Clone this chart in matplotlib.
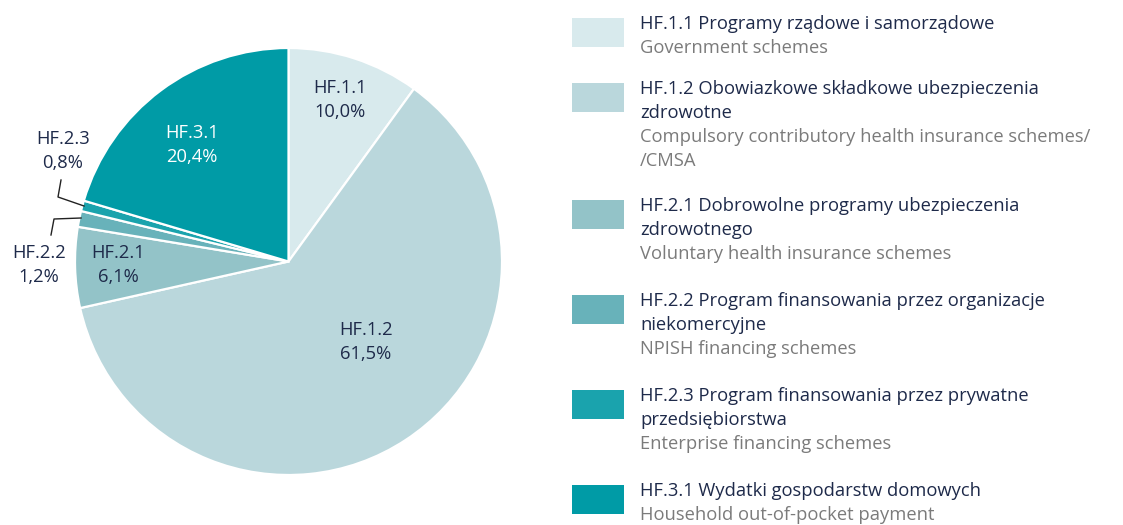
import matplotlib
matplotlib.use("Agg")
import matplotlib.pyplot as plt
from matplotlib.patches import Rectangle
from matplotlib.lines import Line2D

plt.rcParams['font.family'] = ['Open Sans', 'DejaVu Sans']

codes = ["HF.1.1", "HF.1.2", "HF.2.1", "HF.2.2", "HF.2.3", "HF.3.1"]
values = [10.0, 61.5, 6.1, 1.2, 0.8, 20.4]
value_labels = ["10,0%", "61,5%", "6,1%", "1,2%", "0,8%", "20,4%"]
pie_codes = ["HF.1.1", "HF.1.2", "HF.2.1", "HF.2.2", "HF.2.3", "HF.3.1"]
colors = ["#d8eaed", "#bad7dc", "#93c3c8", "#68b2ba", "#1aa3ad", "#009ba6"]
legend_pl = [
    ["HF.1.1 Programy rządowe i samorządowe"],
    ["HF.1.2 Obowiazkowe składkowe ubezpieczenia", "zdrowotne"],
    ["HF.2.1 Dobrowolne programy ubezpieczenia", "zdrowotnego"],
    ["HF.2.2 Program finansowania przez organizacje", "niekomercyjne"],
    ["HF.2.3 Program finansowania przez prywatne", "przedsiębiorstwa"],
    ["HF.3.1 Wydatki gospodarstw domowych"],
]
legend_en = [
    ["Government schemes"],
    ["Compulsory contributory health insurance schemes/", "/CMSA"],
    ["Voluntary health insurance schemes"],
    ["NPISH financing schemes"],
    ["Enterprise financing schemes"],
    ["Household out-of-pocket payment"],
]

W, H = 1123, 525
fig = plt.figure(figsize=(W / 100, H / 100), dpi=100)
fig.patch.set_facecolor("white")

def fx(px):
    return px / W

def fy(py):
    return 1 - py / H

cx, cy, R = 288.5, 261.5, 213.5
ax = fig.add_axes([fx(cx - R), fy(cy + R), 2 * R / W, 2 * R / H])
ax.pie(values, colors=colors, startangle=90, counterclock=False,
       wedgeprops=dict(edgecolor="white", linewidth=1.6), radius=1.0)
ax.set_xlim(-1, 1)
ax.set_ylim(-1, 1)
ax.set_aspect("equal")
ax.axis("off")

navy = "#1e2a4a"
gray = "#7b7b7b"
fs = 13.2

# pie labels (pixel positions of label centers)
label_pos = {
    "HF.1.1": (340, 100, navy),
    "HF.1.2": (366, 342, navy),
    "HF.2.1": (118, 265, navy),
    "HF.2.2": (39, 265, navy),
    "HF.2.3": (63, 151, navy),
    "HF.3.1": (192, 145, "white"),
}
for code, val in zip(pie_codes, value_labels):
    px, py, col = label_pos[code]
    fig.text(fx(px), fy(py - 12), code, ha="center", va="center",
             color=col, fontsize=fs)
    fig.text(fx(px), fy(py + 12), val, ha="center", va="center",
             color=col, fontsize=fs)

# leader lines
for pts in ([(61, 180), (58, 197), (84, 206)],
            [(51, 235), (54, 219), (81, 218)]):
    xs = [fx(p[0]) for p in pts]
    ys = [fy(p[1]) for p in pts]
    fig.add_artist(Line2D(xs, ys, color="#222222", linewidth=1.0))

# legend
sw_x0, sw_x1 = 572, 624
sw_h = 29
tx = 640
lh = 24
ys_start = [18, 83, 200, 295, 390, 485]
for i, (pl, en) in enumerate(zip(legend_pl, legend_en)):
    y0 = ys_start[i]
    fig.add_artist(Rectangle((fx(sw_x0), fy(y0 + sw_h)), (sw_x1 - sw_x0) / W, sw_h / H,
                             facecolor=colors[i], edgecolor="none"))
    ty = y0 + 6
    for line in pl:
        fig.text(fx(tx), fy(ty), line, ha="left", va="center", color=navy, fontsize=fs)
        ty += lh
    for line in en:
        fig.text(fx(tx), fy(ty), line, ha="left", va="center", color=gray, fontsize=fs)
        ty += lh

fig.savefig("out.png", dpi=100, facecolor="white")
